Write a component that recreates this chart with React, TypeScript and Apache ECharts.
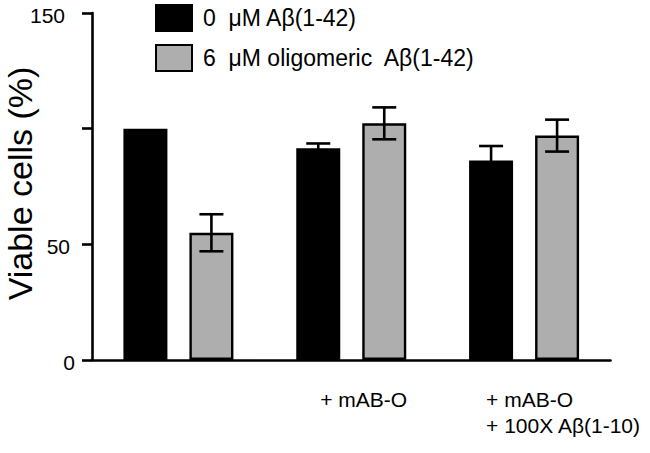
import React, { useEffect, useRef } from "react";
import * as echarts from "echarts";

const categories = ["", "+ mAB-O", "+ mAB-O\n+ 100X Aβ(1-10)"];
const seriesNames = ["0  μM Aβ(1-42)", "6  μM oligomeric  Aβ(1-42)"];
const controlValues = [100, 91.5, 86.2];
const controlErrors = [0, 2.1, 6.3];
const oligoValues = [55, 102.3, 97];
const oligoErrors = [8, 6.9, 6.9];
const yTicks = [0, 50, 100, 150];
const yTickLabels = ["0", "50", "", "150"];

const FONT = '"Liberation Sans", Arial, Helvetica, sans-serif';
const BAR_W = 44;
const BAR_GAP = 22;

function errorSeries(name: string, values: number[], errs: number[], offset: number) {
  return {
    name,
    type: "custom",
    z: 10,
    silent: true,
    encode: { x: 0, y: 1 },
    data: values.map((v, i) => [i, v, errs[i]]),
    renderItem: (_params: any, api: any) => {
      const idx = api.value(0);
      const v = api.value(1);
      const e = api.value(2);
      if (!e) return null;
      const hi = api.coord([idx, v + e]);
      const lo = api.coord([idx, v - e]);
      const x = hi[0] + offset;
      const style = { stroke: "#000", lineWidth: 2.6 };
      const cap = 12;
      return {
        type: "group",
        children: [
          { type: "line", shape: { x1: x, y1: hi[1], x2: x, y2: lo[1] }, style },
          { type: "line", shape: { x1: x - cap, y1: hi[1], x2: x + cap, y2: hi[1] }, style },
          { type: "line", shape: { x1: x - cap, y1: lo[1], x2: x + cap, y2: lo[1] }, style },
        ],
      };
    },
  };
}

export default function App() {
  const ref = useRef<HTMLDivElement>(null);
  useEffect(() => {
    if (!ref.current) return;
    const chart = echarts.init(ref.current, null, { renderer: "svg" });
    const off = BAR_W / 2 + BAR_GAP / 2;
    chart.setOption({
      animation: false,
      backgroundColor: "#fff",
      textStyle: { fontFamily: FONT },
      grid: { left: 92, right: 39.5, top: 13, bottom: 93, containLabel: false, outerBoundsMode: "none" },
      legend: {
        data: seriesNames,
        orient: "vertical",
        left: 155,
        top: 4,
        padding: 0,
        itemWidth: 36,
        itemHeight: 26,
        itemGap: 12,
        icon: "rect",
        selectedMode: false,
        textStyle: { fontSize: 23, color: "#000", fontFamily: FONT, padding: [8, 0, 0, 6] },
      },
      xAxis: {
        type: "category",
        data: categories,
        axisLine: { lineStyle: { color: "#000", width: 2.6 } },
        axisTick: { alignWithLabel: true, length: 10, lineStyle: { color: "#000", width: 2.6 } },
        axisLabel: {
          interval: 0,
          margin: 26,
          color: "#000",
          fontSize: 21,
          lineHeight: 26,
          fontFamily: FONT,
          formatter: (_v: string, i: number) => {
            const lines = categories[i].split("\n").filter((s) => s.length);
            if (!lines.length) return "";
            const key = i === 1 ? "b" : "c";
            return lines.map((l) => `{${key}|${l}}`).join("\n");
          },
          rich: {
            b: { width: 62, align: "left", fontSize: 21, lineHeight: 26, color: "#000", fontFamily: FONT },
            c: { width: 76, align: "left", fontSize: 21, lineHeight: 26, color: "#000", fontFamily: FONT },
          },
        },
      },
      yAxis: {
        type: "value",
        min: 0,
        max: 150,
        interval: 50,
        name: "Viable cells (%)",
        nameLocation: "middle",
        nameGap: 55,
        nameMoveOverlap: false,
        nameTextStyle: { fontSize: 34, color: "#000", fontFamily: FONT, padding: [0, 0, 0, 6] },
        axisLine: { show: true, lineStyle: { color: "#000", width: 2.6 } },
        axisTick: { show: true, length: 10, lineStyle: { color: "#000", width: 2.6 } },
        splitLine: { show: false },
        axisLabel: {
          margin: 17,
          color: "#000",
          fontSize: 21,
          fontFamily: FONT,
          formatter: (v: number) => {
            const i = yTicks.indexOf(v);
            const t = i >= 0 ? yTickLabels[i] : "";
            if (!t) return "";
            return `{${"r" + v}|${t}}`;
          },
          rich: {
            r0: { fontSize: 21, color: "#000", padding: [5, 0, 0, 0], fontFamily: FONT },
            r50: { fontSize: 21, color: "#000", padding: [5, 5, 0, 0], fontFamily: FONT },
            r150: { fontSize: 21, color: "#000", padding: [5, 10, 0, 0], fontFamily: FONT },
          },
        },
      },
      series: [
        {
          name: seriesNames[0],
          type: "bar",
          barWidth: BAR_W,
          barGap: (BAR_GAP / BAR_W) * 100 + "%",
          data: controlValues,
          itemStyle: { color: "#000", borderColor: "#000", borderWidth: 2 },
        },
        {
          name: seriesNames[1],
          type: "bar",
          barWidth: BAR_W,
          barGap: (BAR_GAP / BAR_W) * 100 + "%",
          data: oligoValues,
          itemStyle: { color: "#AEAEAE", borderColor: "#000", borderWidth: 2.4 },
        },
        errorSeries("err0", controlValues, controlErrors, -off),
        errorSeries("err1", oligoValues, oligoErrors, off),
      ],
    });
    return () => chart.dispose();
  }, []);
  return (
    <div
      ref={ref}
      style={{ position: "fixed", left: 0, top: 0, width: 650, height: 453, background: "#fff" }}
    />
  );
}
